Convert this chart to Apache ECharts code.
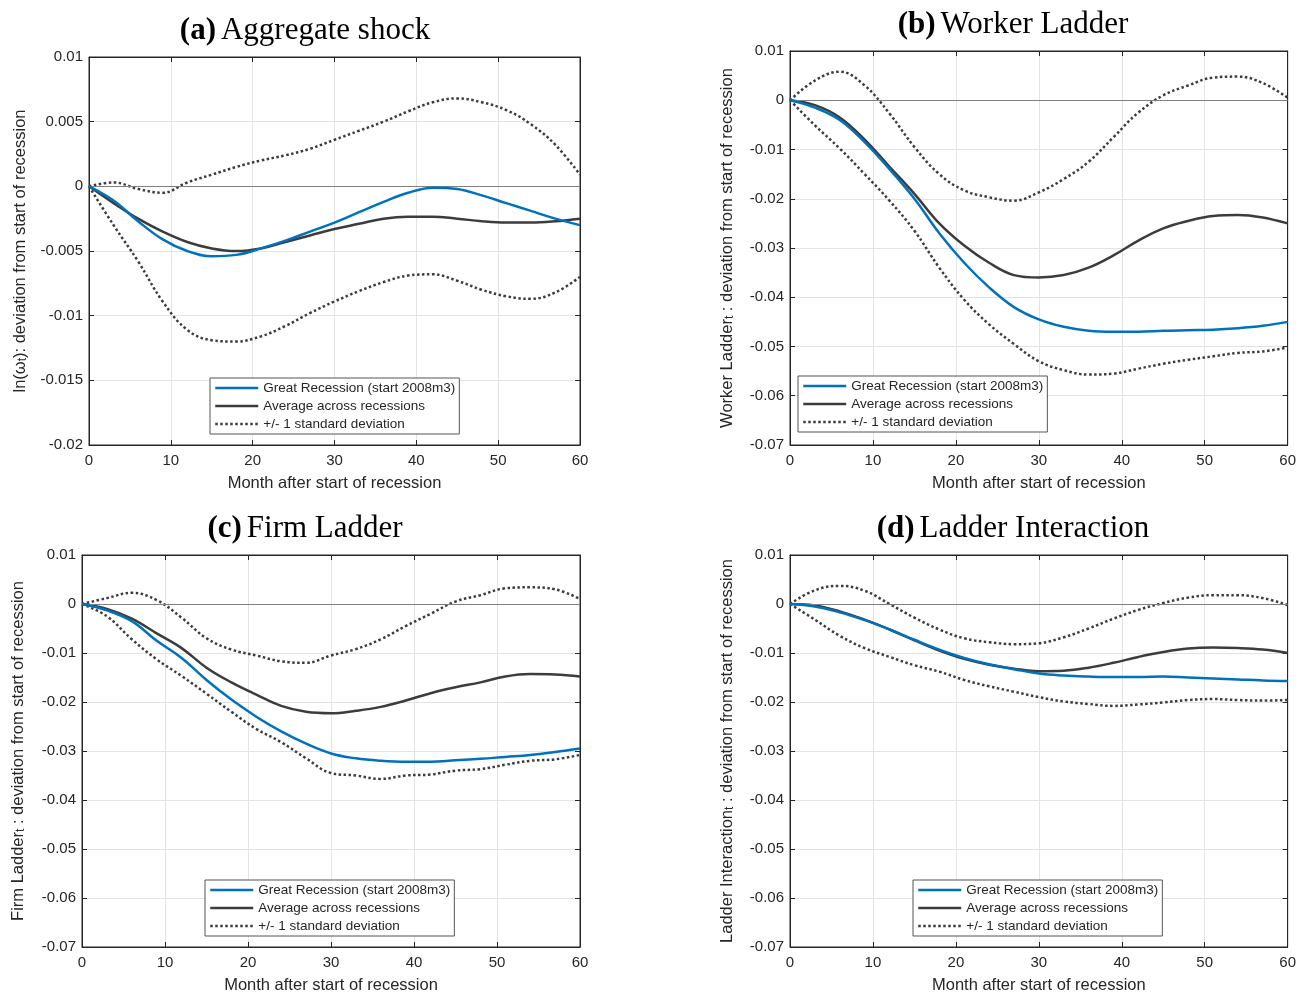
<!DOCTYPE html>
<head>
    <meta charset="utf-8">
    <title>Recession ladders</title>
    <script src="https://cdn.jsdelivr.net/npm/echarts@6/dist/echarts.min.js"></script>
    <style>
      html,body{ margin:0; padding:0; background:#fff; }
      #main{ width:1299px; height:995px; }
    </style>
</head>
<body>
<div id="main"></div>
<script>
    // months after start of recession (sampled every 3 months)
    var months = [0,3,6,9,12,15,18,21,24,27,30,33,36,39,42,45,48,51,54,57,60];

    // (a) aggregate shock
    var aggGreat = [0,-0.0011,-0.0027,-0.0041,-0.0050,-0.0054,-0.0053,-0.0048,-0.0042,-0.0035,-0.0028,-0.0020,-0.0012,-0.0005,-0.0001,-0.0002,-0.0007,-0.0013,-0.0019,-0.0025,-0.0030];
    var aggAvg   = [0,-0.0013,-0.0025,-0.0035,-0.0043,-0.0048,-0.0050,-0.0048,-0.0043,-0.0038,-0.0033,-0.0029,-0.0025,-0.00235,-0.00235,-0.0025,-0.0027,-0.0028,-0.0028,-0.0027,-0.0025];
    var aggUp    = [0,0.0003,-0.0002,-0.0005,0.0003,0.0009,0.0015,0.0020,0.0024,0.0029,0.0036,0.0043,0.0050,0.0058,0.0065,0.0068,0.0065,0.0059,0.0048,0.0032,0.0009];
    var aggLo    = [0,-0.0030,-0.0058,-0.0089,-0.0111,-0.0119,-0.0120,-0.0116,-0.0108,-0.0098,-0.0089,-0.0081,-0.0074,-0.0069,-0.0068,-0.0073,-0.0080,-0.0085,-0.0087,-0.0082,-0.0070];

    // (b) worker ladder
    var wlGreat = [0,-0.0015,-0.004,-0.0085,-0.014,-0.020,-0.027,-0.033,-0.038,-0.042,-0.0445,-0.046,-0.0468,-0.047,-0.047,-0.0468,-0.0467,-0.0466,-0.0463,-0.0458,-0.045];
    var wlAvg   = [0,-0.001,-0.0035,-0.008,-0.0135,-0.019,-0.025,-0.0295,-0.033,-0.0355,-0.036,-0.0355,-0.034,-0.0315,-0.0285,-0.026,-0.0245,-0.0235,-0.0233,-0.0238,-0.025];
    var wlUp    = [0,0.004,0.0058,0.003,-0.0027,-0.0095,-0.015,-0.0183,-0.0197,-0.0204,-0.0187,-0.016,-0.0125,-0.0075,-0.0025,0.001,0.003,0.0046,0.0048,0.0035,0.0005];
    var wlLo    = [0,-0.0051,-0.0098,-0.015,-0.0204,-0.0265,-0.034,-0.0405,-0.0455,-0.0495,-0.053,-0.0548,-0.0557,-0.0555,-0.0545,-0.0535,-0.0527,-0.052,-0.0513,-0.051,-0.0502];

    // (c) firm ladder
    var flGreat = [0,-0.0013,-0.0035,-0.0075,-0.011,-0.0155,-0.0195,-0.023,-0.026,-0.0285,-0.0305,-0.0315,-0.032,-0.0322,-0.0322,-0.0319,-0.0316,-0.0312,-0.0308,-0.0302,-0.0295];
    var flAvg   = [0,-0.001,-0.003,-0.006,-0.009,-0.013,-0.016,-0.0185,-0.0208,-0.022,-0.0223,-0.0218,-0.021,-0.0197,-0.0182,-0.017,-0.016,-0.0148,-0.0143,-0.0144,-0.0148];
    var flUp    = [0,0.0012,0.0023,0.0008,-0.0028,-0.007,-0.0093,-0.0105,-0.0117,-0.012,-0.0105,-0.0092,-0.0072,-0.0045,-0.002,0.0005,0.0018,0.0032,0.0034,0.003,0.001];
    var flLo    = [0,-0.0025,-0.0072,-0.0113,-0.0147,-0.0183,-0.022,-0.0255,-0.0282,-0.0315,-0.0345,-0.035,-0.0357,-0.035,-0.0348,-0.034,-0.0337,-0.0328,-0.032,-0.0317,-0.0308];

    // (d) ladder interaction
    var liGreat = [0,-0.0005,-0.0017,-0.0033,-0.0052,-0.0073,-0.0093,-0.011,-0.0123,-0.0133,-0.0142,-0.0146,-0.0148,-0.0149,-0.0149,-0.0148,-0.015,-0.0152,-0.0154,-0.0156,-0.0157];
    var liAvg   = [0,-0.0003,-0.0015,-0.0032,-0.0052,-0.0074,-0.0095,-0.0112,-0.0124,-0.0132,-0.0137,-0.0136,-0.013,-0.012,-0.0108,-0.0098,-0.0091,-0.0089,-0.009,-0.0093,-0.01];
    var liUp    = [0,0.0028,0.0037,0.0027,0,-0.0028,-0.0052,-0.007,-0.0078,-0.0082,-0.008,-0.0068,-0.005,-0.003,-0.0012,0.0002,0.0013,0.0018,0.0018,0.0012,-0.0002];
    var liLo    = [0,-0.0032,-0.0065,-0.009,-0.0108,-0.0125,-0.0138,-0.0155,-0.0168,-0.0179,-0.019,-0.0199,-0.0204,-0.0208,-0.0205,-0.0201,-0.0196,-0.0194,-0.0196,-0.0197,-0.0196];

    var legendNames = ['Great Recession (start 2008m3)', 'Average across recessions', '+/- 1 standard deviation'];

    var panels = [
        { tag: '(a)', title: 'Aggregate shock', yName: ['ln(ω', ': deviation from start of recession'], yClose: ')',
          yMin: -0.02, yMax: 0.01, yStep: 0.005, great: aggGreat, avg: aggAvg, up: aggUp, lo: aggLo },
        { tag: '(b)', title: 'Worker Ladder', yName: ['Worker Ladder', ' : deviation from start of recession'], yClose: '',
          yMin: -0.07, yMax: 0.01, yStep: 0.01, great: wlGreat, avg: wlAvg, up: wlUp, lo: wlLo },
        { tag: '(c)', title: 'Firm Ladder', yName: ['Firm Ladder', ' : deviation from start of recession'], yClose: '',
          yMin: -0.07, yMax: 0.01, yStep: 0.01, great: flGreat, avg: flAvg, up: flUp, lo: flLo },
        { tag: '(d)', title: 'Ladder Interaction', yName: ['Ladder Interaction', ' : deviation from start of recession'], yClose: '',
          yMin: -0.07, yMax: 0.01, yStep: 0.01, great: liGreat, avg: liAvg, up: liUp, lo: liLo }
    ];

    // layout of the 2x2 figure
    var grids = [
        { left: 89,  top: 57,  width: 491, height: 388 },
        { left: 790, top: 51,  width: 498, height: 394 },
        { left: 82,  top: 555, width: 498, height: 393 },
        { left: 790, top: 555, width: 498, height: 393 }
    ];
    var titlePos = [[300, 10], [1008, 4], [300, 508], [1008, 508]];
    var legendPos = [[210, 378], [798, 376], [205, 880], [913, 880]];
    var yNameGap = [60, 54, 55, 54];

    var ink = '#262626';
    var blue = '#0072BD';
    var dark = '#3c3c3c';
    var gridLine = { show: true, lineStyle: { color: '#e3e3e3', width: 1 } };
    var tickIn = { show: true, inside: true, length: 5, lineStyle: { color: ink } };
    var boxLine = { show: true, onZero: false, lineStyle: { color: ink, width: 1 } };

    function pairs(ys) {
        return months.map(function (m, i) { return [m, ys[i]]; });
    }
    function fmt(v) {
        return String(+v.toFixed(4));
    }

    var option = {
        backgroundColor: '#fff',
        animation: false,
        title: [], grid: [], xAxis: [], yAxis: [], legend: [], series: []
    };

    panels.forEach(function (p, k) {
        option.grid.push({ left: grids[k].left, top: grids[k].top, width: grids[k].width, height: grids[k].height,
            show: true, borderColor: ink, borderWidth: 1, backgroundColor: '#fff' });
        option.title.push({
            text: '{b|' + p.tag + '} {n|' + p.title + '}',
            left: titlePos[k][0], top: titlePos[k][1], textAlign: 'center',
            textStyle: { rich: {
                b: { fontFamily: 'Liberation Serif', fontWeight: 'bold', fontSize: 31, color: '#000' },
                n: { fontFamily: 'Liberation Serif', fontWeight: 'normal', fontSize: 31, color: '#000' }
            } }
        });
        // bottom + top x axes, left + right y axes (MATLAB box with ticks on every side)
        option.xAxis.push({
            type: 'value', gridIndex: k, min: 0, max: 60, interval: 10, position: 'bottom',
            name: 'Month after start of recession', nameLocation: 'middle', nameGap: 30,
            nameTextStyle: { color: ink, fontSize: 16.5, fontFamily: 'Liberation Sans' },
            axisLine: boxLine, axisTick: tickIn,
            axisLabel: { show: true, margin: 8, color: ink, fontSize: 15, fontFamily: 'Liberation Sans' },
            splitLine: gridLine
        });
        option.xAxis.push({
            type: 'value', gridIndex: k, min: 0, max: 60, interval: 10, position: 'top',
            axisLine: boxLine, axisTick: tickIn,
            axisLabel: { show: false }, splitLine: { show: false }
        });
        option.yAxis.push({
            type: 'value', gridIndex: k, min: p.yMin, max: p.yMax, interval: p.yStep, position: 'left',
            name: '{n|' + p.yName[0] + '}{s|t}{n|' + p.yClose + p.yName[1] + '}',
            nameLocation: 'middle', nameGap: yNameGap[k],
            nameTextStyle: { rich: {
                n: { color: ink, fontSize: 16.5, fontFamily: 'Liberation Sans', lineHeight: 22, verticalAlign: 'bottom' },
                s: { color: ink, fontSize: 12, fontFamily: 'Liberation Sans', lineHeight: 12, verticalAlign: 'bottom' }
            } },
            axisLine: boxLine, axisTick: tickIn,
            axisLabel: { show: true, margin: 6, color: ink, fontSize: 15, fontFamily: 'Liberation Sans', formatter: fmt },
            splitLine: gridLine
        });
        option.yAxis.push({
            type: 'value', gridIndex: k, min: p.yMin, max: p.yMax, interval: p.yStep, position: 'right',
            axisLine: boxLine, axisTick: tickIn,
            axisLabel: { show: false }, splitLine: { show: false }
        });
        option.legend.push({
            orient: 'vertical', left: legendPos[k][0], top: legendPos[k][1],
            data: legendNames, itemWidth: 43, itemHeight: 14, itemGap: 4,
            padding: [3, 4, 3, 4], borderColor: '#555', borderWidth: 1, backgroundColor: '#fff',
            itemStyle: { opacity: 0 }, lineStyle: { width: 2.5 },
            textStyle: { color: ink, fontSize: 13.5, fontFamily: 'Liberation Sans' },
            selectedMode: false
        });
        var xi = 2 * k, yi = 2 * k;
        var base = { type: 'line', xAxisIndex: xi, yAxisIndex: yi, symbol: 'none', smooth: 0.4, z: 3 };
        option.series.push(Object.assign({}, base, {
            name: legendNames[2], data: pairs(p.up),
            lineStyle: { color: dark, width: 2.5, type: 'dotted' }, itemStyle: { color: dark }
        }));
        option.series.push(Object.assign({}, base, {
            name: legendNames[2], data: pairs(p.lo),
            lineStyle: { color: dark, width: 2.5, type: 'dotted' }, itemStyle: { color: dark }
        }));
        option.series.push(Object.assign({}, base, {
            name: legendNames[1], data: pairs(p.avg), z: 4,
            lineStyle: { color: dark, width: 2.5 }, itemStyle: { color: dark },
            markLine: { silent: true, symbol: 'none', label: { show: false },
                lineStyle: { color: '#808080', width: 1, type: 'solid' }, data: [{ yAxis: 0 }] }
        }));
        option.series.push(Object.assign({}, base, {
            name: legendNames[0], data: pairs(p.great), z: 5,
            lineStyle: { color: blue, width: 2.5 }, itemStyle: { color: blue }
        }));
    });

    var chart = echarts.init(document.getElementById('main'));
    chart.setOption(option);
    window.onresize = function () { chart.resize(); };
</script>
</body>
